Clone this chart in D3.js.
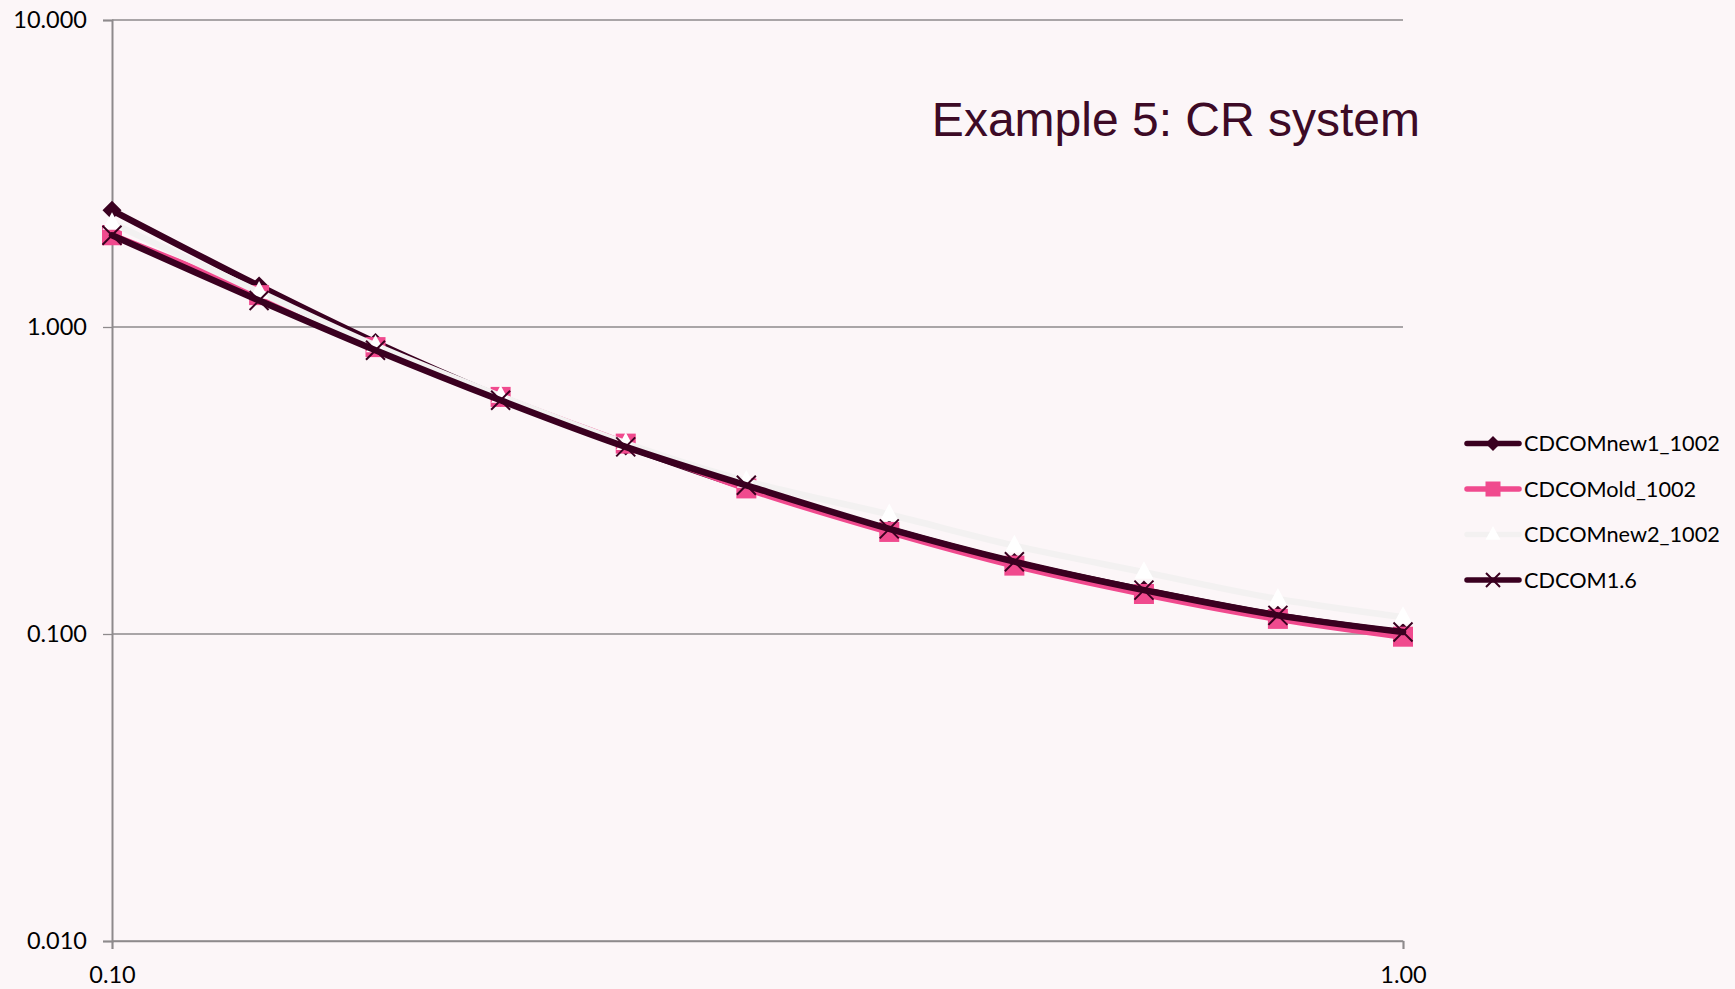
<!DOCTYPE html>
<html>
<head>
<meta charset="utf-8">
<script src="https://cdn.jsdelivr.net/npm/d3@7"></script>
<style>
  html, body { margin: 0; padding: 0; background: #fcf6f8; }
  svg { display: block; }
</style>
</head>
<body>
<svg id="chart" width="1735" height="989"></svg>
<script>
// ---- data ----
const xValues = [0.1, 0.13, 0.16, 0.2, 0.25, 0.31, 0.4, 0.5, 0.63, 0.8, 1.0];
const seriesNames = ["CDCOMnew1_1002", "CDCOMold_1002", "CDCOMnew2_1002", "CDCOM1.6"];
const cdcomNew1 = [2.40, 1.36, 0.89, 0.59, 0.41, 0.300, 0.219, 0.171, 0.139, 0.115, 0.101];
const cdcomOld  = [1.99, 1.27, 0.86, 0.592, 0.417, 0.298, 0.215, 0.167, 0.135, 0.112, 0.098];
const cdcomNew2 = [2.18, 1.30, 0.87, 0.595, 0.418, 0.315, 0.245, 0.194, 0.159, 0.130, 0.1135];
const cdcom16   = [1.99, 1.22, 0.84, 0.577, 0.407, 0.305, 0.220, 0.172, 0.139, 0.115, 0.1015];
const yTickValues = [0.01, 0.1, 1, 10];
const xTickValues = [0.1, 1];
const titleText = "Example 5: CR system";

// ---- styles ----
const styles = [
  { color: "#3a0020", marker: "diamond", fill: "#3a0020" },
  { color: "#f04a8e", marker: "square", fill: "#f04a8e" },
  { color: "#f3f1f1", marker: "triangle", fill: "#ffffff" },
  { color: "#3a0020", marker: "x", fill: "#3a0020" }
];
const seriesData = [cdcomNew1, cdcomOld, cdcomNew2, cdcom16];

const svg = d3.select("#chart");
const L = 112, R = 1403, T = 20, B = 941;
const x = d3.scaleLog().domain([0.1, 1]).range([L, R]);
const y = d3.scaleLog().domain([0.01, 10]).range([B, T]);

svg.append("rect").attr("width", 1735).attr("height", 989).attr("fill", "#fcf6f8");

// gridlines
svg.append("g").selectAll("line").data(yTickValues).join("line")
  .attr("x1", L).attr("x2", R)
  .attr("y1", d => y(d)).attr("y2", d => y(d))
  .attr("stroke", "#8e8a8c").attr("stroke-width", 1.3);

// y axis
const yAxis = d3.axisLeft(y).tickValues(yTickValues).tickFormat(d3.format(".3f")).tickSize(9).tickPadding(16);
const gy = svg.append("g").attr("transform", `translate(${L},0)`).call(yAxis);
gy.select(".domain").attr("stroke", "#8e8a8c").attr("stroke-width", 2);
gy.selectAll(".tick line").attr("stroke", "#8e8a8c").attr("stroke-width", 1.3);
gy.selectAll("text").attr("font-family", "Lato, 'Noto Sans', sans-serif").attr("font-size", 23.5).attr("fill", "#000");

// x axis
const xAxis = d3.axisBottom(x).tickValues(xTickValues).tickFormat(d3.format(".2f")).tickSize(8).tickPadding(17);
const gx = svg.append("g").attr("transform", `translate(0,${B})`).call(xAxis);
gx.select(".domain").attr("stroke", "#8e8a8c").attr("stroke-width", 1.3);
gx.selectAll(".tick line").attr("stroke", "#8e8a8c").attr("stroke-width", 2);
gx.selectAll("text").attr("font-family", "Lato, 'Noto Sans', sans-serif").attr("font-size", 23.5).attr("fill", "#000");

// markers
function drawMarker(g, type, cx, cy, st, s) {
  if (type === "diamond") {
    g.append("path").attr("d", `M${cx},${cy - s}L${cx + s},${cy}L${cx},${cy + s}L${cx - s},${cy}Z`).attr("fill", st.fill);
  } else if (type === "square") {
    g.append("rect").attr("x", cx - s).attr("y", cy - s).attr("width", 2 * s).attr("height", 2 * s).attr("fill", st.fill);
  } else if (type === "triangle") {
    g.append("path").attr("d", `M${cx},${cy - s * 1.15}L${cx + s},${cy + s * 0.7}L${cx - s},${cy + s * 0.7}Z`).attr("fill", st.fill);
  } else if (type === "x") {
    g.append("path").attr("d", `M${cx - s},${cy - s}L${cx + s},${cy + s}M${cx + s},${cy - s}L${cx - s},${cy + s}`)
      .attr("stroke", st.fill).attr("stroke-width", 2).attr("fill", "none");
  }
}
const markerSize = { diamond: 9.5, square: 10, triangle: 9.5, x: 9.5 };

const line = d3.line().x(d => x(d[0])).y(d => y(d[1])).curve(d3.curveCatmullRom.alpha(0.5));
const plot = svg.append("g");
seriesData.forEach((vals, i) => {
  const st = styles[i];
  const pts = xValues.map((xv, j) => [xv, vals[j]]);
  const g = plot.append("g");
  g.append("path").attr("d", line(pts)).attr("fill", "none")
    .attr("stroke", st.color).attr("stroke-width", 6.5).attr("stroke-linejoin", "round").attr("stroke-linecap", "round");
  pts.forEach(p => drawMarker(g, st.marker, x(p[0]), y(p[1]), st, markerSize[st.marker]));
});

// title
svg.append("text").attr("x", 1420).attr("y", 136).attr("text-anchor", "end")
  .attr("font-family", "'Liberation Sans', Arial, sans-serif").attr("font-size", 48)
  .attr("fill", "#3d0a26").text(titleText);

// legend
const legY0 = 443.5, legDy = 45.5;
const leg = svg.append("g");
seriesNames.forEach((name, i) => {
  const st = styles[i];
  const ly = legY0 + i * legDy;
  const g = leg.append("g");
  g.append("line").attr("x1", 1467).attr("x2", 1519).attr("y1", ly).attr("y2", ly)
    .attr("stroke", st.color).attr("stroke-width", 5.5).attr("stroke-linecap", "round");
  drawMarker(g, st.marker, 1493, ly, st, st.marker === "x" ? 7 : 7.5);
  g.append("text").attr("x", 1524).attr("y", ly).attr("dy", "0.35em")
    .attr("font-family", "Lato, 'Noto Sans', sans-serif").attr("font-size", 21.7)
    .attr("fill", "#000").text(name);
});
</script>
</body>
</html>
